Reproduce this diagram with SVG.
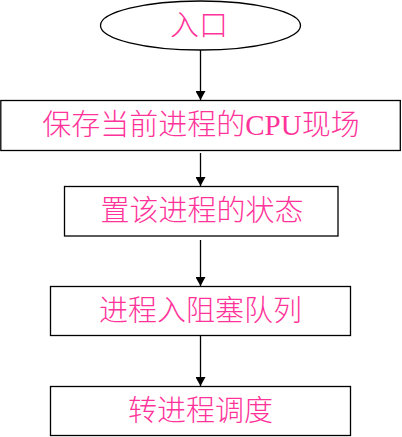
<svg xmlns="http://www.w3.org/2000/svg" width="402" height="437" viewBox="0 0 402 437">
<style>
.n{fill:#fff;stroke:#000;stroke-width:1.3}
.t{fill:#FF3399;font-family:"Liberation Serif","Noto Sans CJK SC",serif;font-size:29px;text-anchor:middle;font-weight:300}
.c{stroke:#000;stroke-width:1.3;fill:none;marker-end:url(#ah)}
</style>
<defs>
<marker id="ah" markerWidth="10" markerHeight="10" refX="9" refY="5" orient="auto" markerUnits="userSpaceOnUse">
<path d="M0,0 L9,5 L0,10 z" fill="#000"/>
</marker>
</defs>
<rect width="402" height="437" fill="#fff"/>
<g id="connectors">
<line class="c" x1="200.5" y1="50" x2="200.5" y2="100"/>
<line class="c" x1="200.5" y1="153" x2="200.5" y2="186"/>
<line class="c" x1="200.5" y1="240" x2="200.5" y2="286"/>
<line class="c" x1="200.5" y1="336" x2="200.5" y2="386"/>
</g>
<g id="entry">
<ellipse class="n" cx="200.5" cy="25.5" rx="100" ry="24.5"/>
<text class="t" x="199" y="36">入口</text>
</g>
<g id="save">
<rect class="n" x="0.8" y="100.5" width="399.5" height="50"/>
<text class="t" x="201" y="135">保存当前进程的CPU现场</text>
</g>
<g id="setstate">
<rect class="n" x="64.5" y="186.5" width="273.5" height="49.5"/>
<text class="t" x="202" y="221">置该进程的状态</text>
</g>
<g id="block">
<rect class="n" x="50.5" y="286.5" width="300" height="49"/>
<text class="t" x="200.5" y="321">进程入阻塞队列</text>
</g>
<g id="schedule">
<rect class="n" x="50.5" y="386.5" width="300" height="49"/>
<text class="t" x="200.5" y="421">转进程调度</text>
</g>
</svg>
